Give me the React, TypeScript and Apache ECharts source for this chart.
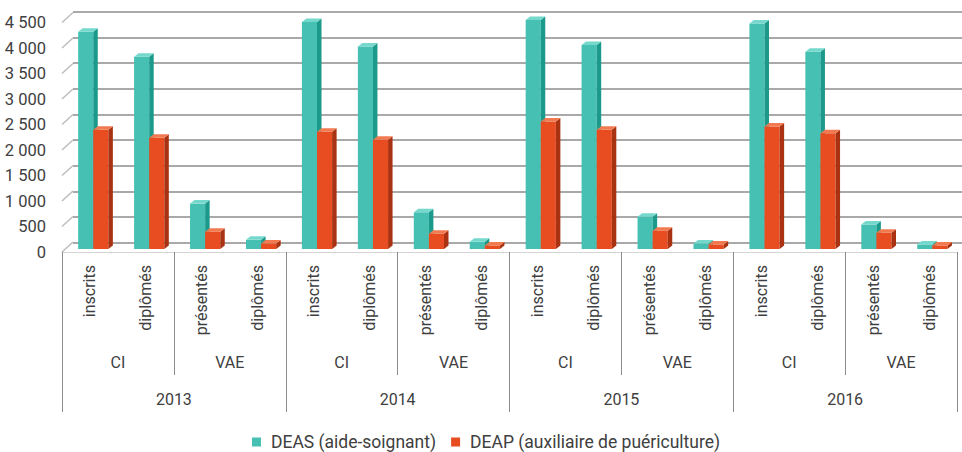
import React, { useEffect, useRef } from "react";
import * as echarts from "echarts";

const subCategories = [
  "inscrits", "diplômés", "présentés", "diplômés",
  "inscrits", "diplômés", "présentés", "diplômés",
  "inscrits", "diplômés", "présentés", "diplômés",
  "inscrits", "diplômés", "présentés", "diplômés",
];
const groupLabels = ["CI", "VAE", "CI", "VAE", "CI", "VAE", "CI", "VAE"];
const years = ["2013", "2014", "2015", "2016"];
const seriesNames = ["DEAS (aide-soignant)", "DEAP (auxiliaire de puériculture)"];
const deas = [4260, 3770, 890, 180, 4450, 3970, 720, 140, 4490, 4000, 630, 110, 4420, 3870, 480, 90];
const deap = [2340, 2180, 340, 110, 2300, 2140, 300, 70, 2500, 2340, 360, 90, 2400, 2270, 320, 70];
const yTicks = [0, 500, 1000, 1500, 2000, 2500, 3000, 3500, 4000, 4500];

const FONT = "Roboto, 'Noto Sans', sans-serif";
const TEXT = "#404040";

const palettes = [
  { front: "#45c0b2", side: "#1b998a", top: "#74d8cc" },
  { front: "#e84d21", side: "#a83212", top: "#f27a50" },
];

function fmt(v: number) {
  return String(v).replace(/\B(?=(\d{3})+(?!\d))/g, " ");
}

function makeBarRenderer(seriesIdx: number) {
  const pal = palettes[seriesIdx];
  return (params: any, api: any) => {
    const idx = api.value(0);
    const val = api.value(1);
    const base = api.coord([idx, 0]);
    const top = api.coord([idx, val]);
    const band = api.size([1, 0])[0];
    const w = band * 0.27;
    const offX = 3.3;
    const offY = -3;
    const dx = 4.5;
    const dy = -3.5;
    const x0 = base[0] - w + offX + (seriesIdx === 1 ? w : 0);
    const yB = base[1] + offY;
    const yT = top[1] + offY;
    return {
      type: "group",
      children: [
        {
          type: "rect",
          shape: { x: x0, y: yT, width: w, height: yB - yT },
          style: { fill: pal.front },
        },
        {
          type: "polygon",
          shape: {
            points: [
              [x0 + w, yT],
              [x0 + w + dx, yT + dy],
              [x0 + w + dx, yB + dy],
              [x0 + w, yB],
            ],
          },
          style: { fill: pal.side },
        },
        {
          type: "polygon",
          shape: {
            points: [
              [x0, yT],
              [x0 + dx, yT + dy],
              [x0 + w + dx, yT + dy],
              [x0 + w, yT],
            ],
          },
          style: { fill: pal.top },
        },
      ],
    };
  };
}

export default function App() {
  const ref = useRef<HTMLDivElement>(null);
  useEffect(() => {
    if (!ref.current) return;
    const chart = echarts.init(ref.current, null, { renderer: "svg" });
    const option: any = {
      animation: false,
      backgroundColor: "#ffffff",
      textStyle: { fontFamily: FONT },
      grid: [
        { left: 62, right: 5, top: 22.5, height: 229.5 },
        { left: 73, right: 0, top: 12, height: 230.5 },
      ],
      legend: {
        left: 247,
        top: 428,
        itemWidth: 9,
        itemHeight: 9,
        itemGap: 15,
        icon: "rect",
        data: seriesNames,
        textStyle: { fontFamily: FONT, fontSize: 17.5, color: TEXT, padding: [0, 0, 0, 5] },
      },
      xAxis: [
        {
          gridIndex: 0,
          type: "category",
          position: "bottom",
          data: subCategories,
          axisLine: { show: true, lineStyle: { color: "#d4d4d4", width: 1 } },
          axisTick: { show: false },
          splitLine: { show: false },
          axisLabel: {
            interval: 0,
            rotate: 90,
            margin: 13,
            fontFamily: FONT,
            fontSize: 16,
            color: TEXT,
          },
        },
        {
          gridIndex: 0,
          type: "category",
          position: "bottom",
          data: groupLabels,
          axisLine: { show: false },
          axisTick: { show: true, interval: 0, length: 123, lineStyle: { color: "#8c8c8c", width: 1 } },
          splitLine: { show: false },
          axisLabel: { interval: 0, margin: 102, fontFamily: FONT, fontSize: 16, color: TEXT },
        },
        {
          gridIndex: 0,
          type: "category",
          position: "bottom",
          data: years,
          axisLine: { show: false },
          axisTick: { show: true, interval: 0, length: 160, lineStyle: { color: "#8c8c8c", width: 1 } },
          splitLine: { show: false },
          axisLabel: { interval: 0, margin: 139, fontFamily: FONT, fontSize: 16, color: TEXT },
        },
        {
          gridIndex: 1,
          type: "category",
          data: subCategories,
          show: false,
        },
      ],
      yAxis: [
        {
          gridIndex: 0,
          type: "value",
          min: 0,
          max: 4500,
          interval: 500,
          axisLine: { show: false },
          axisTick: { show: false },
          splitLine: { show: false },
          axisLabel: {
            margin: 16,
            fontFamily: FONT,
            fontSize: 16.5,
            color: TEXT,
            formatter: (v: number) => fmt(v),
          },
        },
        {
          gridIndex: 1,
          type: "value",
          min: 0,
          max: 4500,
          interval: 500,
          axisLine: { show: false },
          axisTick: { show: false },
          axisLabel: { show: false },
          splitLine: { show: true, lineStyle: { color: "#a9a9a9", width: 2 } },
        },
      ],
      series: [
        {
          name: "sidewall",
          type: "custom",
          xAxisIndex: 0,
          yAxisIndex: 0,
          silent: true,
          z: 1,
          data: yTicks.map((v) => [0, v]),
          renderItem: (params: any, api: any) => {
            const p = api.coord([api.value(0), api.value(1)]);
            const band = api.size([1, 0])[0];
            const x = p[0] - band / 2;
            return {
              type: "line",
              shape: { x1: x, y1: p[1], x2: x + 11, y2: p[1] - 10 },
              style: { stroke: "#bdbdbd", lineWidth: 1.5 },
            };
          },
        },
        {
          name: seriesNames[0],
          type: "custom",
          xAxisIndex: 0,
          yAxisIndex: 0,
          z: 3,
          itemStyle: { color: palettes[0].front },
          data: deas.map((v, i) => [i, v]),
          renderItem: makeBarRenderer(0),
        },
        {
          name: seriesNames[1],
          type: "custom",
          xAxisIndex: 0,
          yAxisIndex: 0,
          z: 4,
          itemStyle: { color: palettes[1].front },
          data: deap.map((v, i) => [i, v]),
          renderItem: makeBarRenderer(1),
        },
      ],
    };
    chart.setOption(option);
    return () => chart.dispose();
  }, []);
  return (
    <div
      ref={ref}
      style={{ position: "absolute", left: 0, top: 0, width: 962, height: 452 }}
    />
  );
}
